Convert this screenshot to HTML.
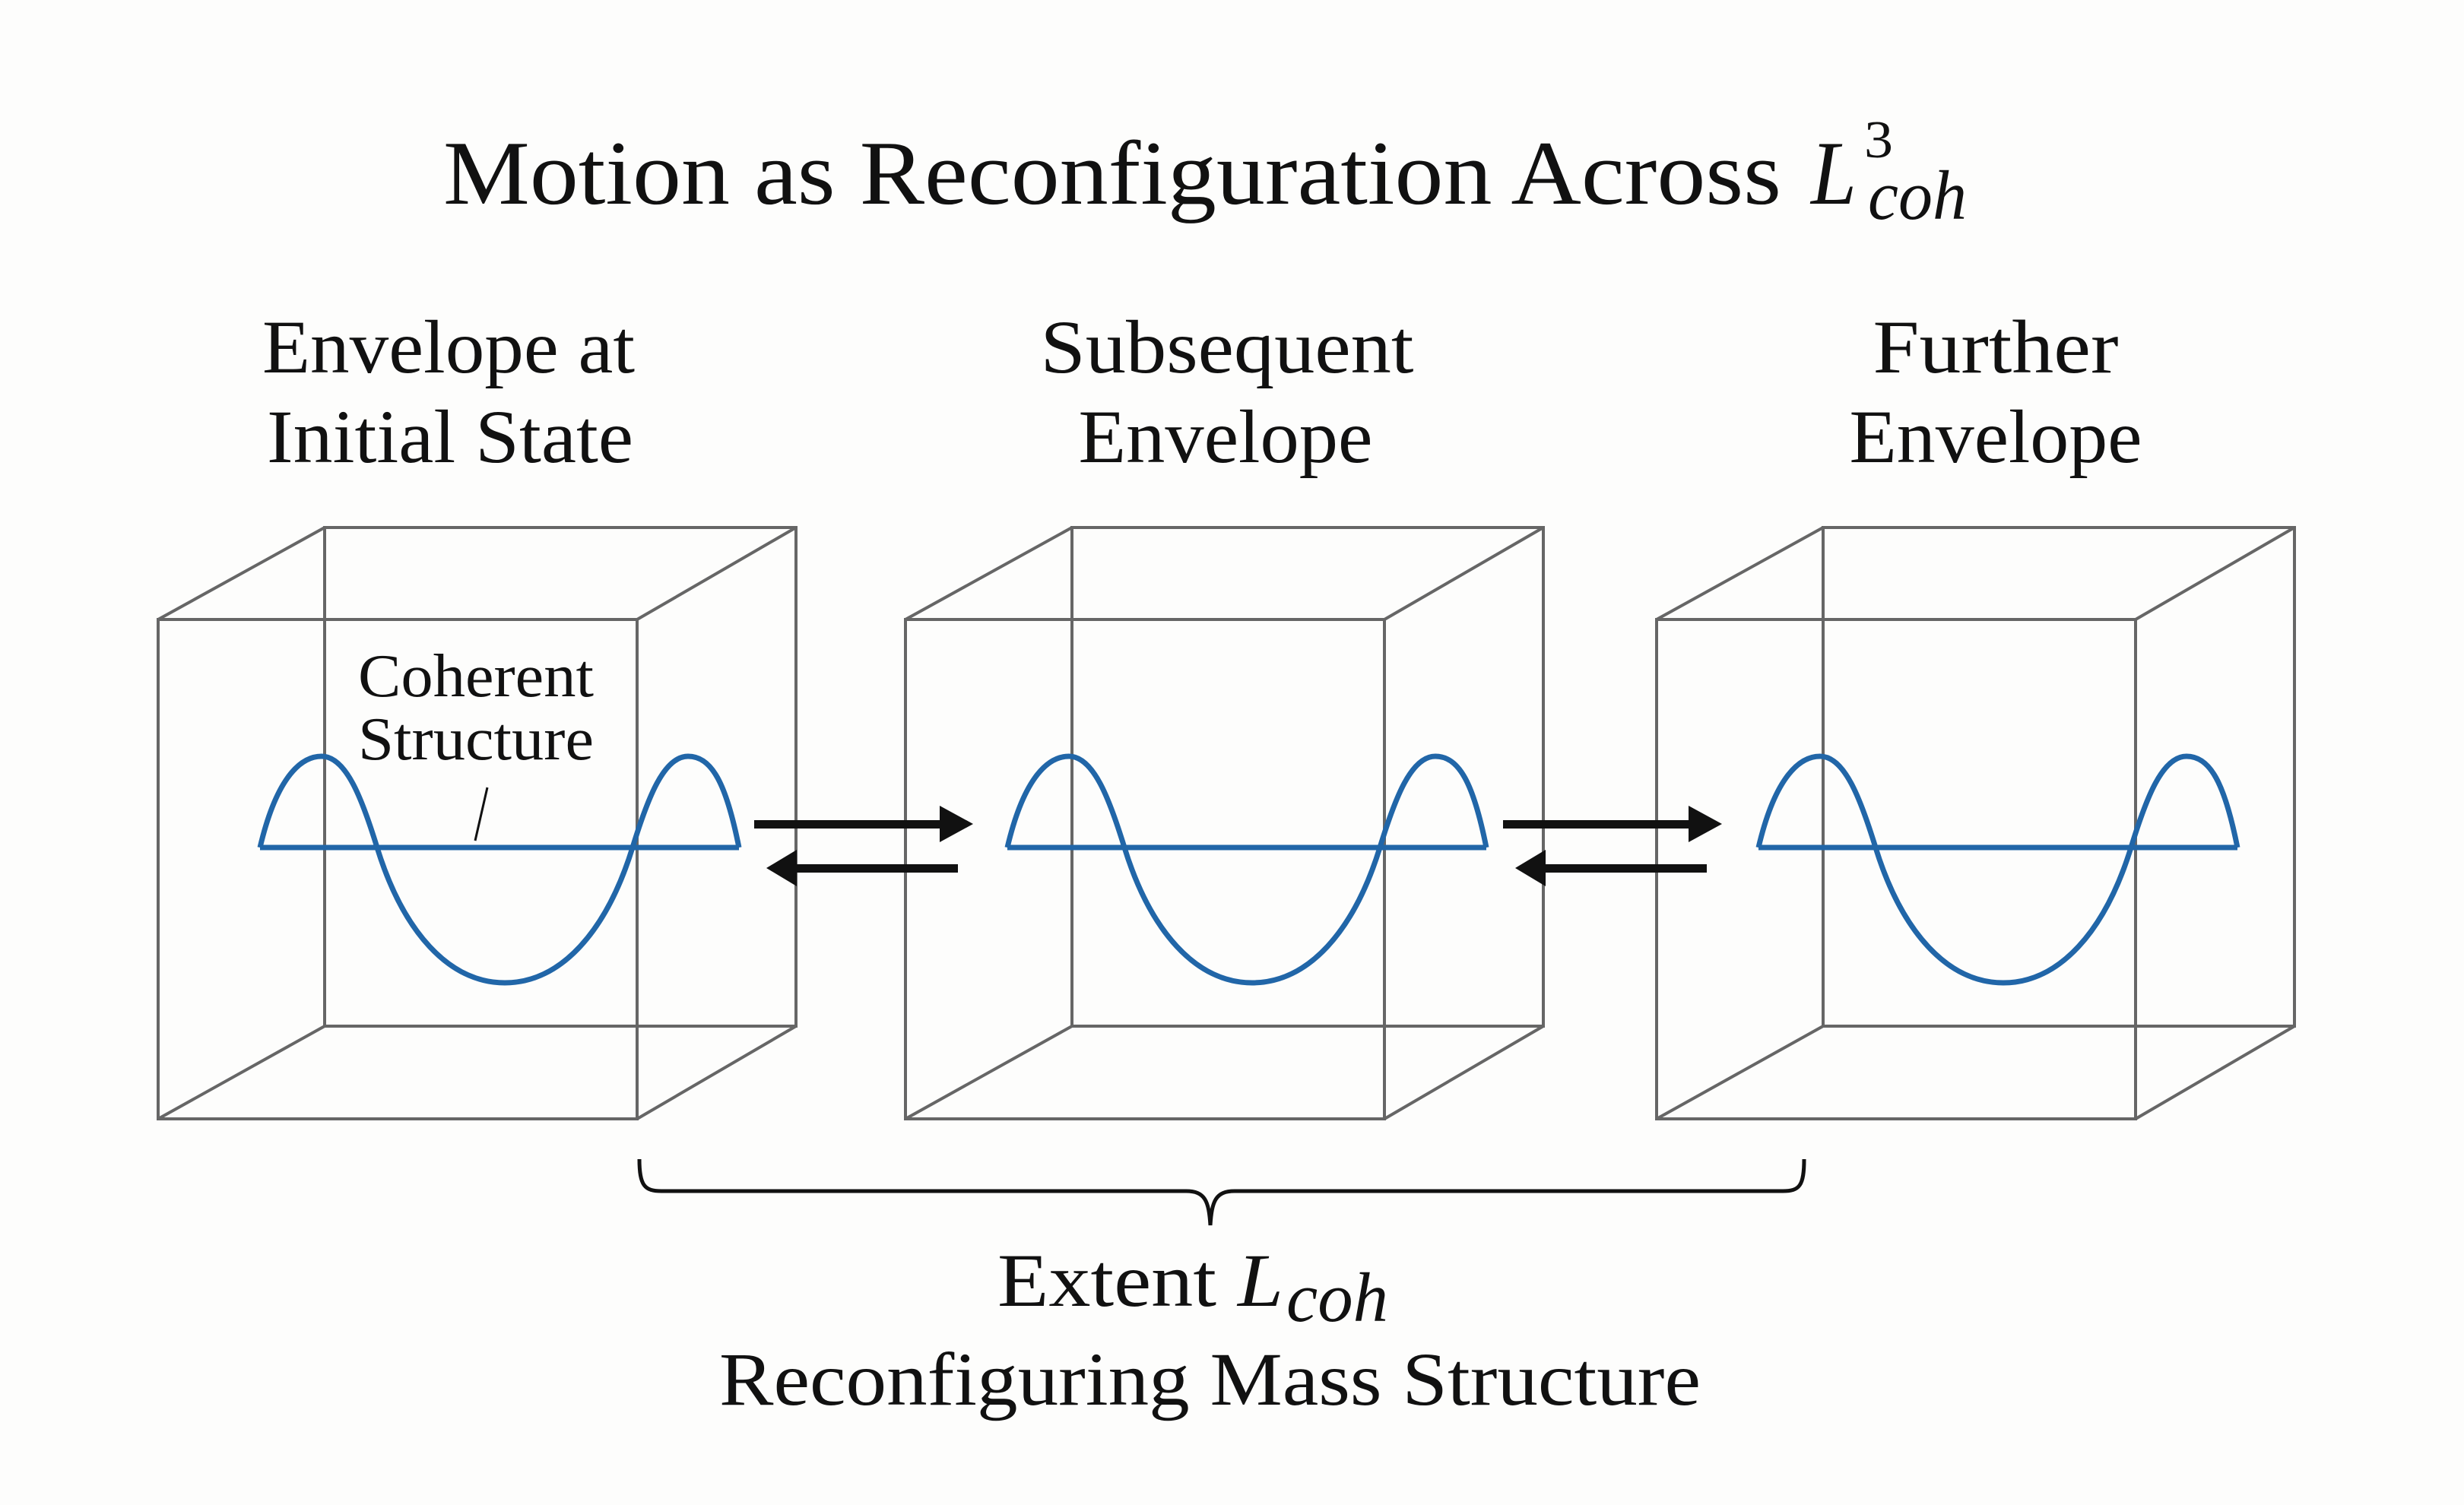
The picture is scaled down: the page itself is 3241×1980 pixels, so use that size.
<!DOCTYPE html>
<html><head><meta charset="utf-8"><style>
html,body{margin:0;padding:0;background:#fdfdfc;}
svg{display:block;}
text{font-family:"Liberation Serif",serif;fill:#111;}
</style></head><body>
<svg width="3241" height="1980" viewBox="0 0 3241 1980" xmlns="http://www.w3.org/2000/svg">
<rect width="3241" height="1980" fill="#fdfdfc"/>
<!-- Title -->
<text x="583" y="268" font-size="120" textLength="1760" lengthAdjust="spacingAndGlyphs">Motion as Reconfiguration Across</text>
<text x="2382" y="268" font-size="120" font-style="italic" textLength="60" lengthAdjust="spacingAndGlyphs">L</text>
<text x="2452" y="207" font-size="70" textLength="38" lengthAdjust="spacingAndGlyphs">3</text>
<text x="2457" y="288" font-size="92" font-style="italic" textLength="130" lengthAdjust="spacingAndGlyphs">coh</text>
<!-- Headings -->
<g font-size="100" text-anchor="middle">
<text x="590" y="490" textLength="490" lengthAdjust="spacingAndGlyphs">Envelope at</text>
<text x="592" y="608" textLength="482" lengthAdjust="spacingAndGlyphs">Initial State</text>
<text x="1614" y="490" textLength="491" lengthAdjust="spacingAndGlyphs">Subsequent</text>
<text x="1612" y="608" textLength="387" lengthAdjust="spacingAndGlyphs">Envelope</text>
<text x="2625" y="490" textLength="323" lengthAdjust="spacingAndGlyphs">Further</text>
<text x="2625" y="608" textLength="385" lengthAdjust="spacingAndGlyphs">Envelope</text>
</g>
<defs>
<g id="cube" fill="none" stroke="#666" stroke-width="4">
<rect x="427" y="694" width="620" height="656"/>
<rect x="208" y="815" width="630" height="657"/>
<line x1="208" y1="815" x2="427" y2="694"/>
<line x1="838" y1="815" x2="1047" y2="694"/>
<line x1="208" y1="1472" x2="427" y2="1350"/>
<line x1="838" y1="1472" x2="1047" y2="1350"/>
</g>
<g id="wave" fill="none" stroke="#2166a8" stroke-width="7" stroke-linejoin="round">
<line x1="342" y1="1115" x2="972" y2="1115"/>
<path d="M342,1115 C362,1030 392,995 423,995 C455,995 476,1050 496,1115 C530,1225 590,1293 664,1293 C738,1293 798,1225 832,1115 C852,1050 873,995 905,995 C936,995 955,1030 972,1115"/>
</g>
<g id="arrows" fill="#111">
<rect x="992" y="1079" width="246" height="11"/>
<polygon points="1236,1060 1280,1084 1236,1108"/>
<rect x="1046" y="1137" width="214" height="11"/>
<polygon points="1048,1118 1008,1142 1048,1166"/>
</g>
</defs>
<use href="#cube"/>
<use href="#cube" transform="translate(983,0)"/>
<use href="#cube" transform="translate(1971,0)"/>
<use href="#wave"/>
<use href="#wave" transform="translate(983,0)"/>
<use href="#wave" transform="translate(1971,0)"/>
<use href="#arrows"/>
<use href="#arrows" transform="translate(985,0)"/>
<!-- Coherent Structure label -->
<text x="471" y="916" font-size="80" textLength="310" lengthAdjust="spacingAndGlyphs">Coherent</text>
<text x="471" y="999" font-size="80" textLength="310" lengthAdjust="spacingAndGlyphs">Structure</text>
<line x1="641" y1="1036" x2="625" y2="1106" stroke="#111" stroke-width="3"/>
<!-- Brace -->
<path d="M841,1525 C841,1560 848,1567 870,1567 L1560,1567 C1585,1567 1590,1580 1592,1612 C1594,1580 1599,1567 1624,1567 L2345,1567 C2367,1567 2373,1560 2373,1525" fill="none" stroke="#111" stroke-width="5"/>
<!-- Bottom labels -->
<text x="1312" y="1718" font-size="100" textLength="288" lengthAdjust="spacingAndGlyphs">Extent</text>
<text x="1628" y="1718" font-size="100" font-style="italic" textLength="60" lengthAdjust="spacingAndGlyphs">L</text>
<text x="1692" y="1738" font-size="92" font-style="italic" textLength="134" lengthAdjust="spacingAndGlyphs">coh</text>
<text x="946" y="1848" font-size="100" textLength="1291" lengthAdjust="spacingAndGlyphs">Reconfiguring Mass Structure</text>
</svg>
</body></html>
